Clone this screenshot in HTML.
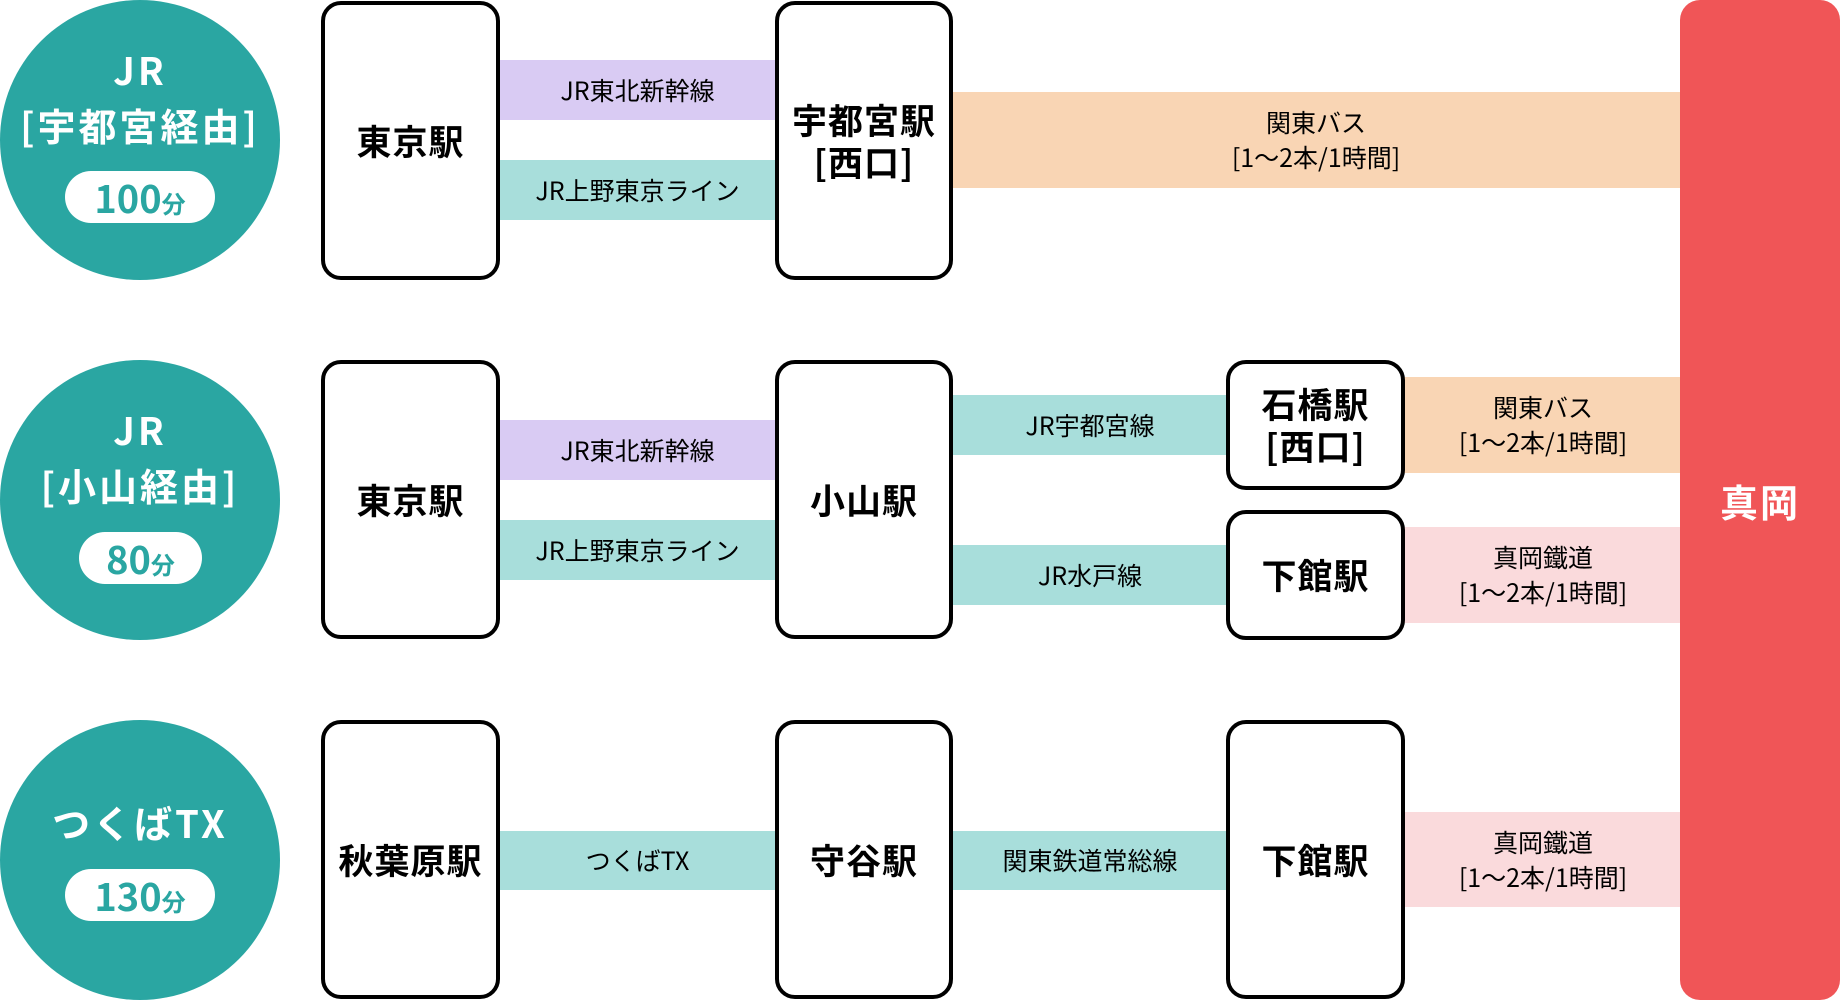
<!DOCTYPE html>
<html><head><meta charset="utf-8"><style>
body{margin:0;width:1840px;height:1000px;position:relative;background:#fff;font-family:"Noto Sans CJK JP","Liberation Sans",sans-serif;overflow:hidden}
div{position:absolute;box-sizing:border-box}
.c{border-radius:50%;background:#2aa6a2;width:280px;height:280px;left:0}
.t{color:#fff;font-weight:bold;font-size:38px;letter-spacing:3px;text-align:center;width:280px;left:0;line-height:1}
.p{background:#fff;border-radius:26px;height:52px;color:#2aa6a2;font-weight:bold;font-size:38px;text-align:center;line-height:52px}
.p span{font-size:24px}
.b{border:4px solid #000;border-radius:20px;background:#fff;display:flex;align-items:center;justify-content:center;text-align:center;font-weight:bold;font-size:35px;line-height:1.2;letter-spacing:1px}
.l{display:flex;align-items:center;justify-content:center;text-align:center;font-size:25px;line-height:1.4}
.pu{background:#d9cbf3}.tl{background:#a8dedb}.or{background:#f9d5b4}.pk{background:#fadadc}
</style></head><body>
<div class="c" style="top:0"></div>
<div class="t" style="top:50px">JR</div>
<div class="t" style="top:106px">[宇都宮経由]</div>
<div class="p" style="left:65px;top:171px;width:150px">100<span>分</span></div>
<div class="c" style="top:360px"></div>
<div class="t" style="top:410px">JR</div>
<div class="t" style="top:466px">[小山経由]</div>
<div class="p" style="left:79px;top:532px;width:123px">80<span>分</span></div>
<div class="c" style="top:720px"></div>
<div class="t" style="top:803px">つくばTX</div>
<div class="p" style="left:65px;top:869px;width:150px">130<span>分</span></div>

<div class="l pu" style="left:497px;top:60px;width:281px;height:60px">JR東北新幹線</div>
<div class="l tl" style="left:497px;top:160px;width:281px;height:60px">JR上野東京ライン</div>
<div class="l or" style="left:950px;top:92px;width:732px;height:96px">関東バス<br>[1～2本/1時間]</div>

<div class="l pu" style="left:497px;top:420px;width:281px;height:60px">JR東北新幹線</div>
<div class="l tl" style="left:497px;top:520px;width:281px;height:60px">JR上野東京ライン</div>
<div class="l tl" style="left:950px;top:395px;width:280px;height:60px">JR宇都宮線</div>
<div class="l tl" style="left:950px;top:545px;width:280px;height:60px">JR水戸線</div>
<div class="l or" style="left:1403px;top:377px;width:280px;height:96px">関東バス<br>[1～2本/1時間]</div>
<div class="l pk" style="left:1403px;top:527px;width:280px;height:96px">真岡鐵道<br>[1～2本/1時間]</div>

<div class="l tl" style="left:497px;top:831px;width:281px;height:59px">つくばTX</div>
<div class="l tl" style="left:950px;top:831px;width:280px;height:59px">関東鉄道常総線</div>
<div class="l pk" style="left:1403px;top:812px;width:280px;height:95px">真岡鐵道<br>[1～2本/1時間]</div>

<div class="b" style="left:321px;top:1px;width:179px;height:279px">東京駅</div>
<div class="b" style="left:775px;top:1px;width:178px;height:279px">宇都宮駅<br>[西口]</div>
<div class="b" style="left:321px;top:360px;width:179px;height:279px">東京駅</div>
<div class="b" style="left:775px;top:360px;width:178px;height:279px">小山駅</div>
<div class="b" style="left:1226px;top:360px;width:179px;height:130px">石橋駅<br>[西口]</div>
<div class="b" style="left:1226px;top:510px;width:179px;height:130px">下館駅</div>
<div class="b" style="left:321px;top:720px;width:179px;height:279px">秋葉原駅</div>
<div class="b" style="left:775px;top:720px;width:178px;height:279px">守谷駅</div>
<div class="b" style="left:1226px;top:720px;width:179px;height:279px">下館駅</div>

<div style="left:1680px;top:0;width:160px;height:1000px;background:#f05557;border-radius:20px;display:flex;align-items:center;justify-content:center;color:#fff;font-weight:bold;font-size:38px;letter-spacing:2px">真岡</div>
</body></html>
